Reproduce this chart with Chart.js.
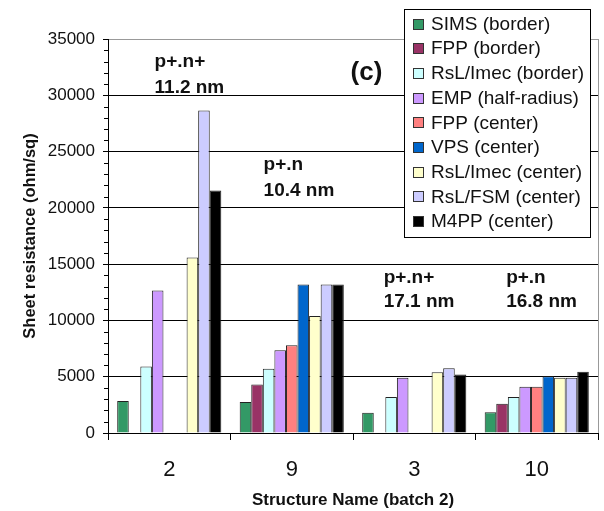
<!DOCTYPE html>
<html>
<head>
<meta charset="utf-8">
<script src="https://cdn.jsdelivr.net/npm/chart.js@4.4.0/dist/chart.umd.min.js"></script>
<style>
  html, body { margin: 0; padding: 0; background: #fff; }
  #wrap { width: 604px; height: 511px; }
</style>
</head>
<body>
<div id="wrap"><canvas id="grafico" width="604" height="511"></canvas></div>
<script>
// Dados
const categorias = ['2', '9', '3', '10'];
const nomesSeries = [
  'SIMS (border)', 'FPP (border)', 'RsL/Imec (border)', 'EMP (half-radius)',
  'FPP (center)', 'VPS (center)', 'RsL/Imec (center)', 'RsL/FSM (center)', 'M4PP (center)'
];
const simsBorder = [2850, 2750, 1800, 1850];
const fppBorder = [null, 4300, null, 2600];
const rslImecBorder = [5900, 5700, 3200, 3200];
const empHalfRadius = [12650, 7350, 4900, 4100];
const fppCenter = [null, 7800, null, 4100];
const vpsCenter = [null, 13200, null, 5050];
const rslImecCenter = [15600, 10400, 5400, 4900];
const rslFsmCenter = [28650, 13200, 5750, 4900];
const m4ppCenter = [21550, 13200, 5200, 5450];
const valoresY = [0, 5000, 10000, 15000, 20000, 25000, 30000, 35000];

// Textos de anotação (estrutura e espessura)
const anotacoes = [
  { cat: 0, linhas: ['p+.n+', '11.2 nm'] },
  { cat: 1, linhas: ['p+.n', '10.4 nm'] },
  { cat: 2, linhas: ['p+.n+', '17.1 nm'] },
  { cat: 3, linhas: ['p+.n', '16.8 nm'] }
];

const series = [simsBorder, fppBorder, rslImecBorder, empHalfRadius, fppCenter,
  vpsCenter, rslImecCenter, rslFsmCenter, m4ppCenter];
const cores = ['#339966', '#993366', '#CCFFFF', '#CC99FF', '#FF8080',
  '#0066CC', '#FFFFCC', '#CCCCFF', '#000000'];

const fonte = '"Liberation Sans", Arial, sans-serif';

// Plugin: ticks menores, borda, anotações e legenda desenhada à mão
const extras = {
  id: 'extras',
  afterDraw(chart) {
    const c = chart.ctx;
    const area = chart.chartArea;
    const x = chart.scales.x;
    const y = chart.scales.y;

    // ticks menores do eixo Y (a cada 1000)
    c.save();
    c.strokeStyle = '#000';
    c.lineWidth = 1;
    for (let v = 1000; v < 35000; v += 1000) {
      if (v % 5000 === 0) continue;
      const py = Math.round(y.getPixelForValue(v)) + 0.5;
      c.beginPath();
      c.moveTo(area.left - 4, py);
      c.lineTo(area.left, py);
      c.stroke();
    }
    // borda direita cinza
    c.strokeStyle = '#999';
    c.beginPath();
    c.moveTo(Math.round(area.right) + 0.5, area.top);
    c.lineTo(Math.round(area.right) + 0.5, area.bottom);
    c.stroke();

    // anotações
    const largCat = (x.right - x.left) / categorias.length;
    const desloc = [0.38, 0.27, 0.25, 0.25];
    const ys = [[32500, 30200], [23350, 21050], [13320, 11190], [13320, 11190]];
    c.fillStyle = '#111';
    c.font = 'bold 19px ' + fonte;
    c.textBaseline = 'alphabetic';
    anotacoes.forEach((a, i) => {
      const px = x.getPixelForValue(a.cat) - largCat / 2 + largCat * desloc[i];
      a.linhas.forEach((t, j) => {
        c.fillText(t, px, y.getPixelForValue(ys[i][j]));
      });
    });
    c.font = 'bold 26px ' + fonte;
    c.textAlign = 'center';
    c.textBaseline = 'middle';
    c.fillText('(c)', x.getPixelForValue(1) + largCat * 0.61, y.getPixelForValue(32000));

    // legenda
    c.textAlign = 'left';
    c.fillStyle = '#fff';
    c.fillRect(404, 9, 186, 228);
    c.strokeStyle = '#000';
    c.strokeRect(404.5, 9.5, 186, 228);
    c.font = '19px ' + fonte;
    chart.data.datasets.forEach((ds, i) => {
      const cy = 23.5 + i * 24.7;
      c.fillStyle = ds.backgroundColor;
      c.fillRect(413, Math.round(cy - 5), 11, 11);
      c.strokeStyle = '#333';
      c.strokeRect(413.5, Math.round(cy - 5) + 0.5, 10, 10);
      c.fillStyle = '#111';
      c.fillText(ds.label, 431, cy + 1);
    });
    c.restore();
  }
};

const ctx = document.getElementById('grafico');
const grafico = new Chart(ctx, {
  type: 'bar',
  data: {
    labels: categorias,
    datasets: series.map((s, i) => ({
      label: nomesSeries[i],
      data: s,
      backgroundColor: cores[i],
      borderColor: '#222',
      borderWidth: 1,
      borderSkipped: 'bottom',
      categoryPercentage: 0.85,
      barPercentage: 1.0
    }))
  },
  options: {
    responsive: false,
    animation: false,
    devicePixelRatio: 1,
    layout: { padding: { top: 39, right: 6, left: 0, bottom: 0 } },
    plugins: {
      legend: { display: false },
      tooltip: { enabled: false }
    },
    scales: {
      x: {
        afterFit(scale) { scale.height = 78; },
        grid: { offset: true, drawOnChartArea: false, tickLength: 7, color: '#000' },
        border: { color: '#000', width: 1 },
        ticks: { color: '#111', font: { family: fonte, size: 22 }, padding: 17 },
        title: {
          display: true,
          text: 'Structure Name (batch 2)',
          color: '#111',
          font: { family: fonte, size: 17, weight: 'bold' },
          padding: { top: 0, bottom: 0 }
        }
      },
      y: {
        min: 0,
        max: 35000,
        afterFit(scale) { scale.width = 108; },
        afterBuildTicks(scale) { scale.ticks = valoresY.map(v => ({ value: v })); },
        grid: {
          color: c => (c.tick && c.tick.value === 35000 ? '#999' : '#000'),
          tickColor: '#000',
          tickLength: 5
        },
        border: { color: '#000', width: 1 },
        ticks: {
          color: '#111',
          font: { family: fonte, size: 17 },
          padding: 8,
          callback: v => String(v)
        },
        title: {
          display: true,
          text: 'Sheet resistance (ohm/sq)',
          color: '#111',
          font: { family: fonte, size: 16.5, weight: 'bold' },
          padding: { top: 21, bottom: 0 }
        }
      }
    }
  },
  plugins: [extras]
});
</script>
</body>
</html>
